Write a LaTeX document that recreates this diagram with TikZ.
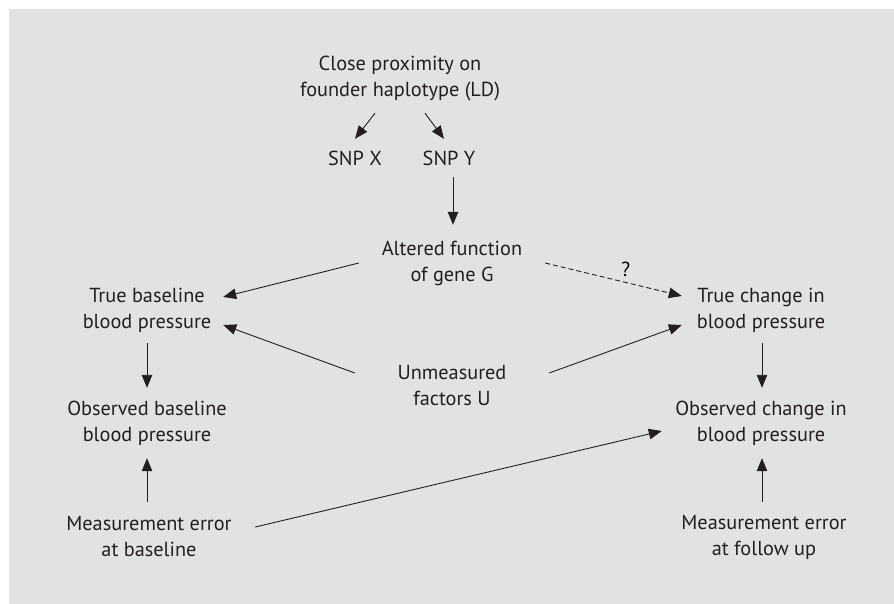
\documentclass[tikz,border=0pt]{standalone}
\usepackage{fontspec}
\setmainfont{PT Sans}
\usepackage{tikz}
\usetikzlibrary{arrows.meta,calc,positioning}
\definecolor{panelgray}{RGB}{225,226,228}
\definecolor{inkdark}{RGB}{35,31,32}
\tikzset{
  box/.style={align=center,inner sep=0pt,text=inkdark,font=\fontsize{20.3}{26}\selectfont},
  edge/.style={-{Triangle[length=13pt,width=10.5pt]},line width=0.9pt,draw=inkdark},
  dashedge/.style={edge,dash pattern=on 5pt off 3pt},
  every node/.style={font=\fontsize{20.3}{26}\selectfont}
}
\begin{document}
\begin{tikzpicture}[x=1pt,y=-1pt]
\useasboundingbox (0,0) rectangle (894,604);
\fill[panelgray] (9,9) rectangle (894,604);
% top of the chain
\node[box,minimum height=68pt] (ld) at (400,79) {Close proximity on\\founder haplotype (LD)};
\node[box,minimum height=38pt] (snpx) at (355,158) {SNP X};
\node[box,minimum height=38pt] (snpy) at (449,158) {SNP Y};
\node[box,minimum width=186pt,minimum height=76pt] (gene) at (452,263) {Altered function\\of gene G};
\node[box,minimum width=194pt] (umf) at (452,386) {Unmeasured\\factors U};
% baseline column
\node[box,minimum width=152pt,minimum height=66pt] (truebase) at (147,310) {True baseline\\blood pressure};
\node[box,minimum height=70pt] (obsbase) at (147,423) {Observed baseline\\blood pressure};
\node[box,minimum width=212pt,minimum height=70pt] (errbase) at (149,537) {Measurement error\\at baseline};
% change column
\node[box,minimum width=158pt,minimum height=66pt] (truechg) at (761,310) {True change in\\blood pressure};
\node[box,minimum width=198pt,minimum height=70pt] (obschg) at (761,423) {Observed change in\\blood pressure};
\node[box,minimum height=70pt] (errfol) at (764,537) {Measurement error\\at follow up};
% arrows
\draw[edge] ([xshift=-25pt]ld.south) -- (snpx.north);
\draw[edge] ([xshift=25pt]ld.south) -- ([xshift=-5pt]snpy.north);
\draw[edge] ([xshift=4pt]snpy.south) -- ([xshift=1pt]gene.north);
\draw[edge] (gene.west) -- ([yshift=13pt]truebase.east);
\draw[dashedge] (gene.east) -- node[pos=0.59,above=2pt] (q) {?} ([yshift=14pt]truechg.west);
\draw[edge] ([yshift=13pt]umf.west) -- ([yshift=-15pt]truebase.east);
\draw[edge] ([yshift=13pt]umf.east) -- ([yshift=-15pt]truechg.west);
\draw[edge] (truebase.south) -- (obsbase.north);
\draw[edge] ([xshift=-2pt]errbase.north) -- (obsbase.south);
\draw[edge] ([xshift=1pt]truechg.south) -- ([xshift=1pt]obschg.north);
\draw[edge] ([xshift=-2pt]errfol.north) -- ([xshift=1pt]obschg.south);
\draw[edge] ([yshift=10pt]errbase.east) -- ([yshift=-8pt]obschg.west);
\end{tikzpicture}
\end{document}
